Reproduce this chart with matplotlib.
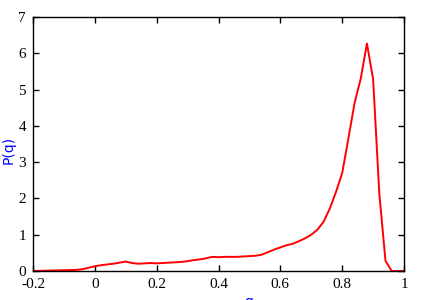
import matplotlib
matplotlib.use('Agg')
import matplotlib.pyplot as plt

# distribution P(q)
q = [-0.2, -0.06, -0.04, -0.02, 0.0, 0.02, 0.04, 0.06, 0.08, 0.1,
     0.12, 0.14, 0.16, 0.18, 0.2, 0.22, 0.24, 0.26, 0.28, 0.3,
     0.32, 0.34, 0.36, 0.38, 0.4, 0.42, 0.44, 0.46, 0.48, 0.5,
     0.52, 0.54, 0.56, 0.58, 0.6, 0.62, 0.64, 0.66, 0.68, 0.7,
     0.72, 0.74, 0.76, 0.78, 0.8, 0.82, 0.84, 0.86, 0.88, 0.9,
     0.92, 0.94, 0.96, 1.0]
pq = [0.0, 0.03, 0.05, 0.09, 0.13, 0.16, 0.18, 0.2, 0.23, 0.26,
      0.22, 0.2, 0.21, 0.22, 0.21, 0.22, 0.23, 0.24, 0.25, 0.27,
      0.3, 0.32, 0.35, 0.39, 0.38, 0.39, 0.39, 0.39, 0.4, 0.41,
      0.42, 0.45, 0.52, 0.59, 0.65, 0.71, 0.75, 0.82, 0.9, 1.0,
      1.14, 1.36, 1.72, 2.18, 2.7, 3.65, 4.63, 5.3, 6.27, 5.29,
      2.14, 0.28, 0.0, 0.0]

xticks = [-0.2, 0, 0.2, 0.4, 0.6, 0.8, 1]
xticklabels = ['-0.2', '0', '0.2', '0.4', '0.6', '0.8', '1']
yticks = [0, 1, 2, 3, 4, 5, 6, 7]

fig = plt.figure(figsize=(4.28, 3.0), dpi=100)
ax = fig.add_axes([0.0771, 0.0967, 0.8669, 0.8466])

ax.plot(q, pq, color='red', lw=1.4)

ax.set_xlim(-0.2, 1)
ax.set_ylim(0, 7)
ax.set_xticks(xticks)
ax.set_xticklabels(xticklabels, family='Liberation Serif', fontsize=11)
ax.set_yticks(yticks)
ax.set_yticklabels([str(v) for v in yticks], family='Liberation Serif', fontsize=11)
ax.tick_params(direction='in', top=True, right=True, length=4, width=1, pad=5)
for s in ax.spines.values():
    s.set_linewidth(1.0)

fig.text(0.021, 0.5, 'P(q)', color='blue', rotation=90, fontsize=10,
         ha='center', va='center')
fig.text(0.58, 0.018, 'q', color='blue', fontsize=10, ha='center', va='top')

fig.savefig('out.png', dpi=100)
